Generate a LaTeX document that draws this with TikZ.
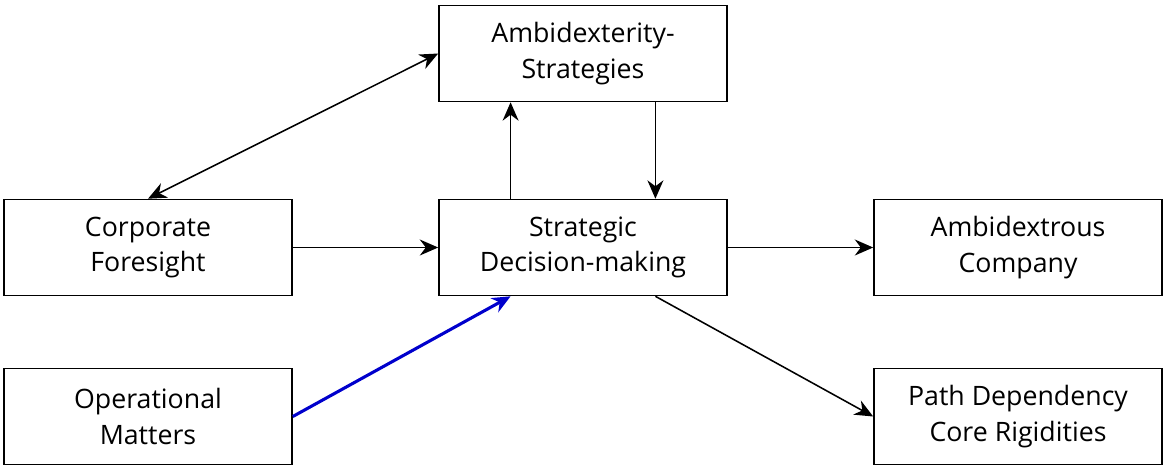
\documentclass[tikz,border=0pt]{standalone}
\usepackage{fontspec}
\setmainfont{Open Sans}
\usetikzlibrary{positioning,arrows.meta,calc}
\definecolor{opBlue}{HTML}{0000CC}

\tikzset{
  box/.style={draw,line width=1.1pt,minimum width=7.2cm,minimum height=2.4cm,align=center,font=\fontsize{19}{25}\selectfont},
  link/.style={line width=1.1pt,-{Stealth[length=4.6mm,width=4mm]}}
}

\begin{document}
\begin{tikzpicture}[x=0.025cm,y=-0.025cm]
\useasboundingbox (0,0) rectangle (1164,468);
\node[box] (amb) at (583,53.5) {Ambidexterity-\\Strategies};
\node[box] (cf) at (148,247.5) {Corporate\\Foresight};
\node[box] (sdm) at (583,247.5) {Strategic\\Decision-making};
\node[box] (ac) at (1018,247.5) {Ambidextrous\\Company};
\node[box] (om) at (148,416.5) {Operational\\Matters};
\node[box] (pd) at (1018,416.5) {Path Dependency\\Core Rigidities};
\draw[link,{Stealth[length=4.6mm,width=4mm]}-{Stealth[length=4.6mm,width=4mm]}] (cf.north) -- (amb.west);
\draw[link] (cf) -- (sdm);
\draw[link] (sdm) -- (ac);
\draw[link] ($(sdm.north west)!0.25!(sdm.north east)$) -- ($(amb.south west)!0.25!(amb.south east)$);
\draw[link] ($(amb.south west)!0.75!(amb.south east)$) -- ($(sdm.north west)!0.75!(sdm.north east)$);
\draw[link] ($(sdm.south west)!0.75!(sdm.south east)$) -- (pd.west);
\draw[link,opBlue,line width=2.2pt] (om.east) -- ($(sdm.south west)!0.25!(sdm.south east)$);
\end{tikzpicture}
\end{document}
